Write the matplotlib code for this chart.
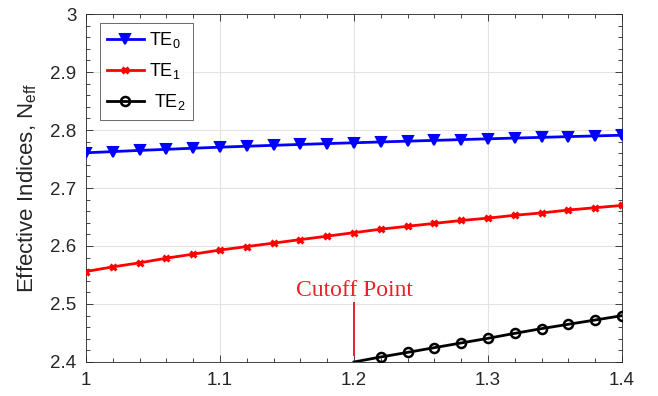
import numpy as np
import matplotlib
matplotlib.use("Agg")
import matplotlib.pyplot as plt
from matplotlib.ticker import MultipleLocator, FuncFormatter

# Normalized width sweep (x) and effective indices of the first three TE modes
width = [1.00, 1.02, 1.04, 1.06, 1.08, 1.10, 1.12, 1.14, 1.16, 1.18, 1.20,
         1.22, 1.24, 1.26, 1.28, 1.30, 1.32, 1.34, 1.36, 1.38, 1.40]
te0 = [2.7607, 2.7628, 2.7648, 2.7667, 2.7686, 2.7704, 2.7720, 2.7736, 2.7751,
       2.7766, 2.7780, 2.7794, 2.7808, 2.7821, 2.7835, 2.7848, 2.7861, 2.7873,
       2.7886, 2.7898, 2.7910]
te1 = [2.556, 2.564, 2.571, 2.579, 2.586, 2.593, 2.599, 2.605, 2.611, 2.617,
       2.623, 2.629, 2.634, 2.639, 2.644, 2.648, 2.653, 2.657, 2.662, 2.666,
       2.670]
# TE2 only exists above the cutoff width
width_te2 = [1.20, 1.22, 1.24, 1.26, 1.28, 1.30, 1.32, 1.34, 1.36, 1.38, 1.40]
te2 = [2.400, 2.4086, 2.4166, 2.4247, 2.4328, 2.4408, 2.4494, 2.4575, 2.4650,
       2.4724, 2.4799]

cutoff_x = 1.20
cutoff_marker = [2.412, 2.502]
cutoff_label = "Cutoff Point"


def main():
    plt.rcParams['font.family'] = ['Liberation Sans', 'DejaVu Sans']
    plt.rcParams['mathtext.fontset'] = 'custom'
    plt.rcParams['mathtext.rm'] = 'Liberation Sans'
    plt.rcParams['mathtext.it'] = 'Liberation Sans'

    fig = plt.figure(figsize=(6.58, 3.96), dpi=100)
    ax = fig.add_axes([0.1307, 0.0859, 0.8146, 0.8787])

    ax.plot(width, te0, '-', color='blue', lw=2.0, marker='v', ms=7.5,
            mfc='blue', mec='blue', mew=1.5, label=r'TE$_0$', zorder=4)
    ax.plot(width, te1, '-', color='red', lw=2.0, marker='x', ms=5,
            mec='red', mew=2.2, label=r'TE$_1$', zorder=4)
    # first TE2 point sits on the cutoff, no marker there
    ax.plot(width_te2, te2, '-', color='black', lw=2.0, marker='o', ms=6.5,
            mfc='none', mec='black', mew=1.8, markevery=list(range(1, len(te2))),
            label=r' TE$_2$', zorder=4)

    # cutoff annotation
    ax.plot([cutoff_x, cutoff_x], cutoff_marker, color='#e8202a', lw=1.4, zorder=3)
    ax.text(cutoff_x, 2.514, cutoff_label, color='#e8202a', ha='center', va='baseline',
            fontsize=17, family=['Liberation Serif', 'DejaVu Serif'])

    ax.set_xlim(1.0, 1.4)
    ax.set_ylim(2.4, 3.0)
    ax.xaxis.set_major_locator(MultipleLocator(0.1))
    ax.xaxis.set_minor_locator(MultipleLocator(0.02))
    ax.yaxis.set_major_locator(MultipleLocator(0.1))
    ax.yaxis.set_minor_locator(MultipleLocator(0.02))
    ax.xaxis.set_major_formatter(FuncFormatter(lambda v, p: f"{v:g}"))
    ax.yaxis.set_major_formatter(FuncFormatter(lambda v, p: f"{v:g}"))

    axis_gray = '#262626'
    ax.tick_params(which='both', direction='in', top=True, right=True,
                   colors=axis_gray, labelsize=13.5, width=0.6)
    ax.tick_params(which='major', length=5, pad=7)
    ax.tick_params(which='minor', length=2.7)
    for sp in ax.spines.values():
        sp.set_color(axis_gray)
        sp.set_linewidth(0.6)

    ax.grid(True, which='major', color='#e3e3e3', lw=0.8)
    ax.set_axisbelow(True)

    ax.set_ylabel(r'Effective Indices, N$_{\mathrm{eff}}$', fontsize=16,
                  color=axis_gray, labelpad=8)

    leg = ax.legend(loc='upper left', bbox_to_anchor=(0.0265, 0.975), fontsize=13,
                    frameon=True, fancybox=False, edgecolor='#262626',
                    handlelength=2.0, handletextpad=0.3, labelspacing=0.62,
                    borderpad=0.4, borderaxespad=0.0)
    leg.get_frame().set_linewidth(0.6)

    fig.savefig("out.png", dpi=100)


if __name__ == "__main__":
    main()
